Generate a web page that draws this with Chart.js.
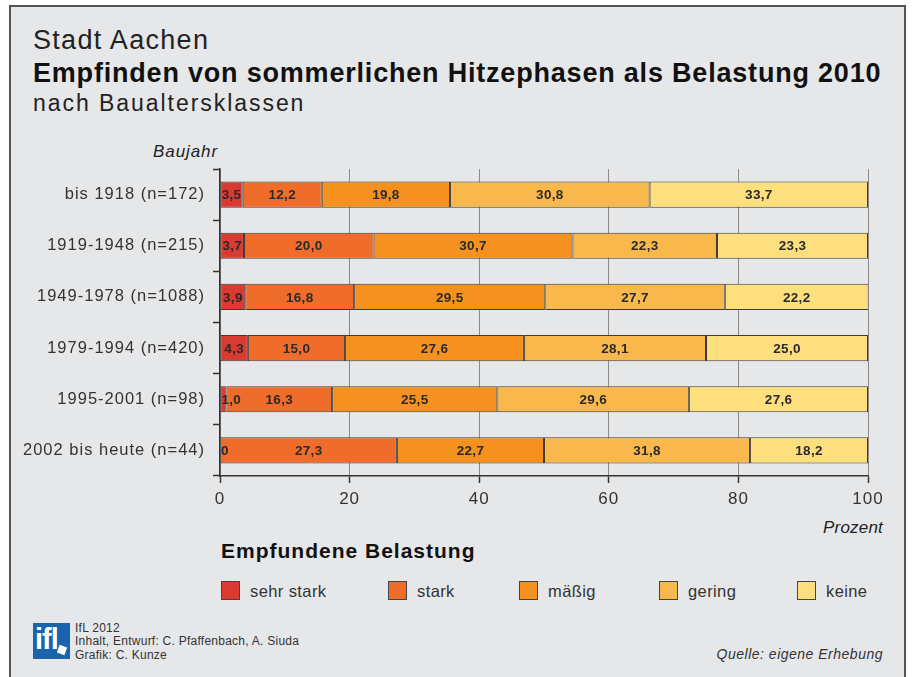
<!DOCTYPE html>
<html><head><meta charset="utf-8">
<script src="https://cdn.jsdelivr.net/npm/chart.js@4.4.1/dist/chart.umd.min.js"></script>
<style>
html,body{margin:0;padding:0;background:#fff;}
#wrap{position:absolute;left:0;top:0;width:912px;height:677px;overflow:hidden;font-family:"Liberation Sans",Arial,sans-serif;color:#222;}
#frame{position:absolute;left:9px;top:5px;width:893px;height:700px;background:#e6e7e9;border:2px solid #555;}
canvas{position:absolute;left:0;top:0;}
.t{position:absolute;white-space:nowrap;line-height:1;}
.lg{position:absolute;top:581px;width:17px;height:17px;border:1px solid #444;}
.lt{position:absolute;top:582px;font-size:16.5px;letter-spacing:0.4px;color:#333;white-space:nowrap;}
#logo{position:absolute;left:33px;top:623px;width:37px;height:36px;background:#1a64ae;overflow:hidden;}
</style></head>
<body>
<div id="wrap">
<div id="frame"></div>
<div class="t" style="left:33px;top:27px;font-size:27px;letter-spacing:1.3px;color:#222;">Stadt Aachen</div>
<div class="t" style="left:33px;top:60px;font-size:27px;letter-spacing:0.8px;font-weight:bold;color:#111;">Empfinden von sommerlichen Hitzephasen als Belastung 2010</div>
<div class="t" style="left:33px;top:92px;font-size:23px;letter-spacing:1.95px;color:#222;">nach Baualtersklassen</div>
<div class="t" style="right:694px;top:143px;font-size:17px;letter-spacing:0.9px;font-style:italic;color:#222;">Baujahr</div>
<div class="t" style="right:29px;top:519px;font-size:17px;letter-spacing:0.2px;font-style:italic;color:#222;">Prozent</div>
<div class="t" style="left:221px;top:540px;font-size:21px;letter-spacing:1px;font-weight:bold;color:#111;">Empfundene Belastung</div>
<div id="legend"></div>
<div id="logo"><span style="position:absolute;left:2px;top:0px;color:#fff;font-weight:bold;font-size:29px;letter-spacing:-1px;">ifl</span><span style="position:absolute;left:25px;top:23px;width:8px;height:8px;background:#fff;transform:rotate(20deg);"></span></div>
<div class="t" style="left:75px;top:622px;font-size:12px;letter-spacing:0.25px;color:#333;">IfL 2012</div>
<div class="t" style="left:75px;top:635px;font-size:12px;letter-spacing:0.25px;color:#333;">Inhalt, Entwurf: C. Pfaffenbach, A. Siuda</div>
<div class="t" style="left:75px;top:649px;font-size:12px;letter-spacing:0.25px;color:#333;">Grafik: C. Kunze</div>
<div class="t" style="right:29px;top:647px;font-size:14px;letter-spacing:0.5px;font-style:italic;color:#333;">Quelle: eigene Erhebung</div>
<canvas id="c" width="912" height="677"></canvas>
</div>
<script>
const categories = ["bis 1918 (n=172)","1919-1948 (n=215)","1949-1978 (n=1088)","1979-1994 (n=420)","1995-2001 (n=98)","2002 bis heute (n=44)"];
const seriesNames = ["sehr stark","stark","mäßig","gering","keine"];
const sehrStark = [3.5, 3.7, 3.9, 4.3, 1.0, 0];
const stark     = [12.2, 20.0, 16.8, 15.0, 16.3, 27.3];
const maessig   = [19.8, 30.7, 29.5, 27.6, 25.5, 22.7];
const gering    = [30.8, 22.3, 27.7, 28.1, 29.6, 31.8];
const keine     = [33.7, 23.3, 22.2, 25.0, 27.6, 18.2];
const xTicks = [0,20,40,60,80,100];
const colors = ["#d93b31","#ef6c2b","#f5921f","#f9b84b","#fedf7e"];
const seriesValues = [sehrStark, stark, maessig, gering, keine];

// HTML legend
const legendX = [221, 388, 519, 659, 797];
const lg = document.getElementById('legend');
seriesNames.forEach((n,i)=>{
  const b=document.createElement('div');b.className='lg';b.style.left=legendX[i]+'px';b.style.background=colors[i];lg.appendChild(b);
  const t=document.createElement('div');t.className='lt';t.style.left=(legendX[i]+29)+'px';t.textContent=n;lg.appendChild(t);
});

const fmt = v => v===0 ? "0" : v.toFixed(1).replace('.',',');

const labelPlugin = {
  id:'segLabels',
  afterDatasetsDraw(chart){
    const ctx=chart.ctx;
    ctx.save();
    ctx.letterSpacing='0.3px';
    ctx.font='bold 13.5px "Liberation Sans", Arial, sans-serif';
    ctx.fillStyle='#2a2a2a';
    ctx.textBaseline='middle';
    chart.data.datasets.forEach((ds,di)=>{
      const meta=chart.getDatasetMeta(di);
      meta.data.forEach((bar,i)=>{
        const v=ds.data[i];
        const s=fmt(v);
        const w=ctx.measureText(s).width;
        const x0=Math.min(bar.base,bar.x), x1=Math.max(bar.base,bar.x);
        if (w+2 > x1-x0){ctx.textAlign='left';ctx.fillText(s,x0+1,bar.y+1);}
        else {ctx.textAlign='center';ctx.fillText(s,(x0+x1)/2,bar.y+1);}
      });
    });
    ctx.restore();
  }
};
const spacingPlugin = {
  id:'spacing',
  beforeDraw(chart){ chart.ctx.letterSpacing='1px'; },
  beforeDatasetsDraw(chart){ chart.ctx.letterSpacing='0px'; }
};

new Chart(document.getElementById('c'),{
  type:'bar',
  data:{
    labels:categories,
    datasets:seriesNames.map((n,i)=>({
      label:n,data:seriesValues[i],backgroundColor:colors[i],
      borderColor:'#3c3c3c',borderWidth:1,borderSkipped:false,
      barPercentage:0.51,categoryPercentage:1
    }))
  },
  options:{
    indexAxis:'y',
    responsive:false,animation:false,
    layout:{padding:{left:0,right:44,top:169,bottom:161}},
    plugins:{legend:{display:false},tooltip:{enabled:false}},
    scales:{
      x:{
        stacked:true,min:0,max:100,
        afterBuildTicks(s){ s.ticks = xTicks.map(v=>({value:v})); },
        afterFit(s){ s.height=40; },
        grid:{color:'#8a8a8a',lineWidth:1,borderDash:[1.5,2.5],tickBorderDash:[],tickColor:'#333',tickLength:7,drawTicks:true,tickWidth:1.5},
        border:{display:true,color:'#333',width:1.5},
        ticks:{color:'#333',font:{family:'"Liberation Sans", Arial, sans-serif',size:17},padding:6}
      },
      y:{
        stacked:true,
        afterFit(s){ s.width=220; },
        grid:{offset:true,drawOnChartArea:false,drawTicks:true,tickLength:7,tickColor:'#333',tickWidth:1.5},
        border:{display:true,color:'#333',width:1.5},
        ticks:{color:'#333',font:{family:'"Liberation Sans", Arial, sans-serif',size:16.5},padding:8}
      }
    }
  },
  plugins:[spacingPlugin,labelPlugin]
});
</script>
</body></html>
